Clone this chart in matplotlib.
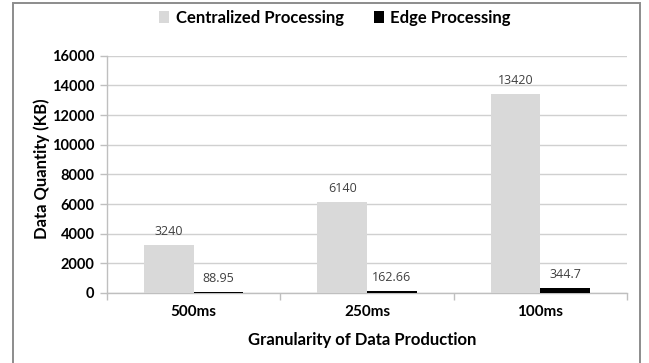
import matplotlib
matplotlib.use("Agg")
import matplotlib.pyplot as plt
from matplotlib.patches import Rectangle, Patch
from matplotlib.ticker import FixedLocator
import numpy as np

categories = ["500ms", "250ms", "100ms"]
centralized = [3240, 6140, 13420]
edge = [88.95, 162.66, 344.7]
centralized_labels = ["3240", "6140", "13420"]
edge_labels = ["88.95", "162.66", "344.7"]
series_names = ["Centralized Processing", "Edge Processing"]

W, H = 649, 363
fig = plt.figure(figsize=(W / 100, H / 100), dpi=100)
fig.patch.set_facecolor("white")

plt.rcParams["font.family"] = ["Lato", "DejaVu Sans"]

# outer chart frame (bottom edge runs off the canvas)
frame = Rectangle((13 / W, -0.05), (640 - 13) / W, (H - 3) / H + 0.05,
                  transform=fig.transFigure, fill=False,
                  edgecolor="#8c8c8c", linewidth=1.4)
fig.patches.append(frame)

ax_left, ax_right, ax_top, ax_bottom = 107, 627, 55.7, 293
ax = fig.add_axes([ax_left / W, (H - ax_bottom) / H,
                   (ax_right - ax_left) / W, (ax_bottom - ax_top) / H])

x = np.arange(len(categories))
bw = 0.286
c_light = "#d9d9d9"
c_dark = "#000000"
ax.bar(x - bw / 2, centralized, bw, color=c_light, zorder=3)
ax.bar(x + bw / 2, edge, bw, color=c_dark, zorder=3)

label_color = "#404040"
for xi, v, s in zip(x, centralized, centralized_labels):
    ax.annotate(s, (xi - bw / 2, v), xytext=(0, 5), textcoords="offset points",
                ha="center", va="bottom", fontsize=9, color=label_color,
                family=["Open Sans", "DejaVu Sans"])
for xi, v, s in zip(x, edge, edge_labels):
    ax.annotate(s, (xi + bw / 2, v), xytext=(0, 5), textcoords="offset points",
                ha="center", va="bottom", fontsize=9, color=label_color,
                family=["Open Sans", "DejaVu Sans"])

ax.set_xlim(-0.5, len(categories) - 0.5)
ax.set_ylim(0, 16000)
ax.set_yticks(np.arange(0, 16001, 2000))
ax.set_yticklabels([str(v) for v in range(0, 16001, 2000)],
                   fontsize=10.5, fontweight="bold")
ax.set_xticks(x)
ax.set_xticklabels(categories, fontsize=11, fontweight="bold")
ax.xaxis.set_minor_locator(FixedLocator(np.arange(-0.5, len(categories), 1.0)))
ax.tick_params(axis="x", which="major", length=0, pad=9)
ax.tick_params(axis="x", which="minor", length=5, color="#bfbfbf", width=1)
ax.tick_params(axis="y", length=5, color="#bfbfbf", width=1, pad=4)

ax.grid(axis="y", color="#d0d0d0", linewidth=1, zorder=0)
ax.set_axisbelow(True)
for side in ["top", "right"]:
    ax.spines[side].set_visible(False)
for side in ["left", "bottom"]:
    ax.spines[side].set_color("#bfbfbf")
    ax.spines[side].set_linewidth(1)

fig.text(42 / W, 1 - 169 / H, "Data Quantity (KB)", rotation=90,
         ha="center", va="center", fontsize=12, fontweight="bold")
fig.text(362 / W, 1 - 340 / H, "Granularity of Data Production",
         ha="center", va="center", fontsize=12, fontweight="bold")

handles = [Patch(facecolor=c_light), Patch(facecolor=c_dark)]
fig.legend(handles, series_names, loc="center", bbox_to_anchor=(335 / W, 1 - 18 / H),
           ncol=2, frameon=False, handlelength=0.6, handleheight=0.7,
           handletextpad=0.4, columnspacing=1.8,
           prop={"weight": "bold", "size": 12})

fig.savefig("out.png", dpi=100)
